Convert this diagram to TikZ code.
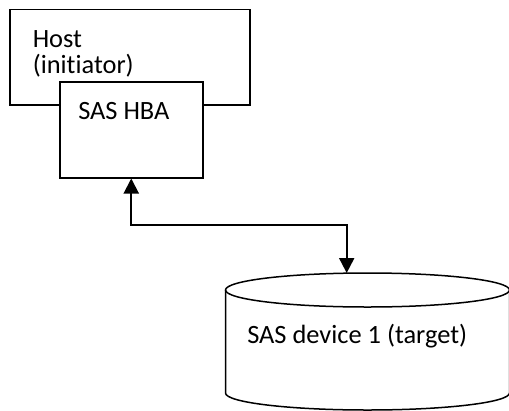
\documentclass[tikz,border=0pt]{standalone}
\usepackage{fontspec}
\setmainfont{Carlito}[Ligatures={NoCommon}]
\usetikzlibrary{arrows.meta}
\tikzset{
  box/.style={draw=black, line width=1.5*0.75pt},
  label/.style={anchor=base west, inner sep=0pt, font=\fontsize{19.8}{23}\selectfont},
  link/.style={draw=black, line width=2*0.75pt,
    {Triangle[width=15*0.75pt, length=15*0.75pt]}-{Triangle[width=15*0.75pt, length=15*0.75pt]}}
}
\begin{document}
\begin{tikzpicture}[x=0.75pt, y=-0.75pt]
  \useasboundingbox (0,0) rectangle (509,410);

  % host computer and its adapter card
  \draw[box] (10,9.5) rectangle (250,105);
  \node[label] (host) at (32.5,47.5) {Host};
  \node[label] (init) at (32.5,73) {(initiator)};
  \node[box, fill=white, minimum width=143*0.75pt, minimum height=96*0.75pt,
        inner sep=0pt, anchor=north west] (hba) at (59,81) {};
  \node[label] (hbatext) at (78,119) {SAS HBA};

  % target drive drawn as a cylinder
  \draw[box] (225.5,290) -- (225.5,393)
    arc[start angle=180, end angle=0, x radius=142, y radius=17] -- (509.5,290);
  \draw[box] (367.5,290) ellipse[x radius=142, y radius=17];
  \node[label] (dev) at (247,343) {SAS device 1 (target)};
  \coordinate (tgt) at (346.7,273);

  % link between adapter and drive
  \draw[link] (hba.south) -- (hba.south |- 0,225) -| (tgt);
\end{tikzpicture}
\end{document}
